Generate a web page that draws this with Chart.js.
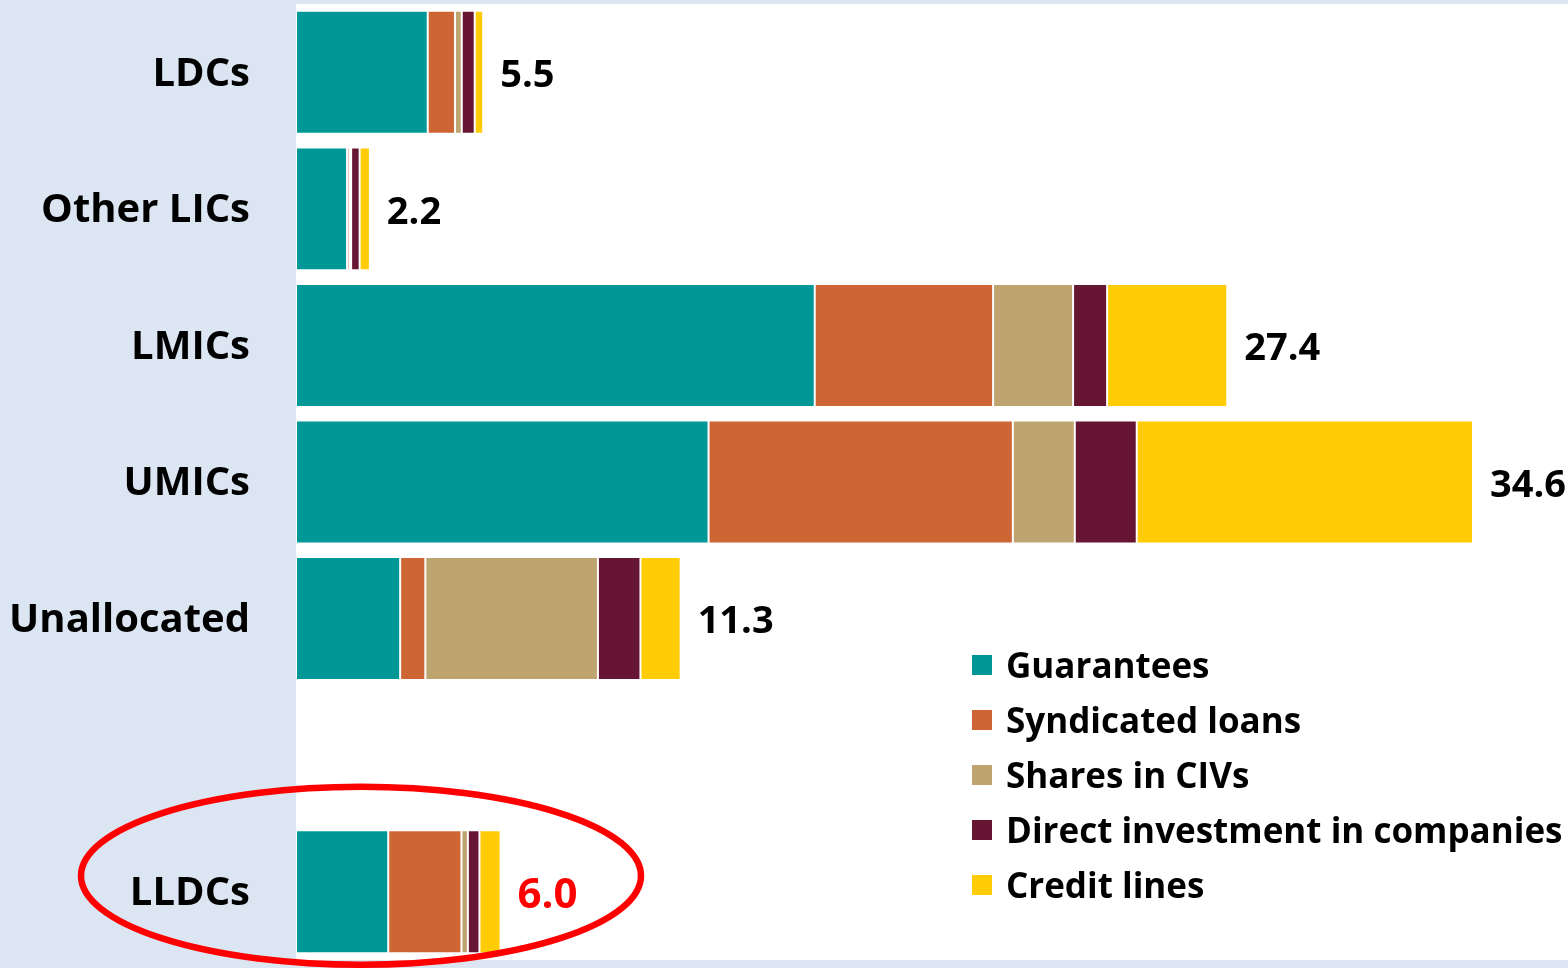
<!DOCTYPE html>
<html>
<head>
<meta charset="utf-8">
<script src="https://cdn.jsdelivr.net/npm/chart.js@4"></script>
<style>
  html, body { margin: 0; padding: 0; background: #DCE6F2; }
  #wrap { width: 1568px; height: 968px; position: relative; }
</style>
</head>
<body>
<div id="wrap"><canvas id="c"></canvas></div>
<script>
// ---- data ----
const categories = ['LDCs', 'Other LICs', 'LMICs', 'UMICs', 'Unallocated', '', 'LLDCs'];
const guarantees       = [3.87, 1.50, 15.24, 12.12, 3.06, null, 2.71];
const syndicatedLoans  = [0.80, 0.07,  5.24,  8.94, 0.74, null, 2.15];
const sharesInCIVs     = [0.20, 0.05,  2.35,  1.82, 5.07, null, 0.19];
const directInvestment = [0.38, 0.25,  1.00,  1.82, 1.25, null, 0.34];
const creditLines      = [0.25, 0.30,  3.53,  9.88, 1.18, null, 0.62];
const seriesNames = ['Guarantees', 'Syndicated loans', 'Shares in CIVs', 'Direct investment in companies', 'Credit lines'];
const highlightCategory = 'LLDCs';

const colors = ['#009896', '#CD6634', '#BEA46F', '#661533', '#FFCC06'];
const seriesData = [guarantees, syndicatedLoans, sharesInCIVs, directInvestment, creditLines];

const FONT = '"Open Sans", Lato, sans-serif';

const bgPlugin = {
  id: 'bg',
  beforeDraw(chart) {
    const { ctx, chartArea: a } = chart;
    ctx.save();
    ctx.fillStyle = '#DCE6F2';
    ctx.fillRect(0, 0, chart.width, chart.height);
    ctx.fillStyle = '#FFFFFF';
    ctx.fillRect(a.left, a.top, a.right - a.left, a.bottom - a.top);
    ctx.restore();
  }
};

const totalsPlugin = {
  id: 'totals',
  afterDatasetsDraw(chart) {
    const { ctx } = chart;
    const xs = chart.scales.x, ys = chart.scales.y;
    ctx.save();
    ctx.textBaseline = 'middle';
    ctx.textAlign = 'left';
    categories.forEach((cat, i) => {
      let sum = 0, any = false;
      seriesData.forEach(s => { if (s[i] != null) { sum += s[i]; any = true; } });
      if (!any) return;
      const hl = cat === highlightCategory;
      ctx.font = 'bold ' + (hl ? 42 : 38) + 'px ' + FONT;
      ctx.fillStyle = hl ? '#FF0000' : '#000000';
      ctx.fillText(sum.toFixed(1), xs.getPixelForValue(sum) + 17, ys.getPixelForValue(i) + 4);
    });
    ctx.restore();
  }
};

const legendPlugin = {
  id: 'customLegend',
  afterDraw(chart) {
    const { ctx } = chart;
    ctx.save();
    ctx.font = 'bold 35px ' + FONT;
    ctx.textBaseline = 'middle';
    ctx.textAlign = 'left';
    chart.data.datasets.forEach((ds, i) => {
      const y = 665 + i * 55;
      ctx.fillStyle = ds.backgroundColor;
      ctx.fillRect(972, y - 10, 20, 20);
      ctx.fillStyle = '#000000';
      ctx.fillText(ds.label, 1006, y + 3);
    });
    ctx.restore();
  }
};

const ellipsePlugin = {
  id: 'highlightEllipse',
  afterDraw(chart) {
    const idx = categories.indexOf(highlightCategory);
    if (idx < 0) return;
    const { ctx, chartArea: a } = chart;
    const cy = chart.scales.y.getPixelForValue(idx) - 16;
    const cx = a.left + 65;
    ctx.save();
    ctx.strokeStyle = '#FF0000';
    ctx.lineWidth = 6.5;
    ctx.beginPath();
    ctx.ellipse(cx, cy, 280, 89, 0, 0, Math.PI * 2);
    ctx.stroke();
    ctx.restore();
  }
};

new Chart(document.getElementById('c'), {
  type: 'bar',
  data: {
    labels: categories,
    datasets: seriesNames.map((name, i) => ({
      label: name,
      data: seriesData[i],
      backgroundColor: colors[i],
      borderColor: '#FFFFFF',
      borderWidth: 1,
      borderSkipped: false,
      categoryPercentage: 1.0,
      barPercentage: 0.9
    }))
  },
  options: {
    indexAxis: 'y',
    responsive: true,
    maintainAspectRatio: false,
    animation: false,
    layout: { padding: { top: 4, bottom: 8, left: 0, right: 0 } },
    plugins: {
      legend: { display: false },
      tooltip: { enabled: false }
    },
    scales: {
      x: {
        stacked: true,
        min: 0,
        max: 37.37,
        display: false
      },
      y: {
        stacked: true,
        grid: { display: false, drawTicks: false },
        border: { display: false },
        ticks: {
          color: '#000000',
          padding: 46,
          labelOffset: 2,
          font: { family: FONT, size: 40, weight: 'bold' }
        },
        afterFit(scale) {
          scale.width = 296;
          scale.paddingTop = 0;
          scale.paddingBottom = 0;
        }
      }
    }
  },
  plugins: [bgPlugin, totalsPlugin, legendPlugin, ellipsePlugin]
});
</script>
</body>
</html>
